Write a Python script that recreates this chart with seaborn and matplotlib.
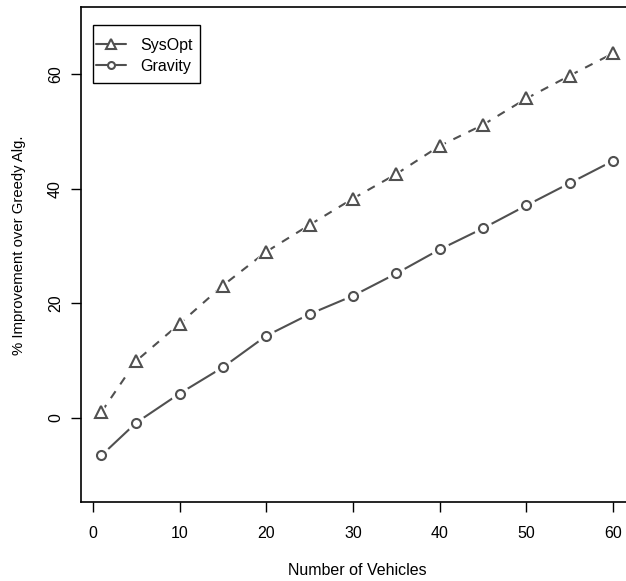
import matplotlib
matplotlib.use('Agg')
import matplotlib.pyplot as plt
from matplotlib.lines import Line2D
from matplotlib.patches import Rectangle
import pandas as pd
import seaborn as sns

vehicles = [1, 5, 10, 15, 20, 25, 30, 35, 40, 45, 50, 55, 60]
sysopt = [1.0, 9.9, 16.4, 23.1, 29.0, 33.7, 38.3, 42.6, 47.5, 51.2, 55.8, 59.8, 63.7]
gravity = [-6.6, -0.9, 4.2, 8.8, 14.3, 18.1, 21.3, 25.2, 29.4, 33.1, 37.1, 41.0, 44.9]

series_names = ['SysOpt', 'Gravity']
x_ticks = [0, 10, 20, 30, 40, 50, 60]
y_ticks = [0, 20, 40, 60]

df = pd.DataFrame({'vehicles': vehicles * 2,
                   'improvement': sysopt + gravity,
                   'series': ['SysOpt'] * len(vehicles) + ['Gravity'] * len(vehicles)})

sns.set_style('ticks')
plt.rcParams['font.family'] = ['Liberation Sans', 'DejaVu Sans']
plt.rcParams['font.size'] = 11.5
plt.rcParams['text.color'] = 'black'
plt.rcParams['axes.labelcolor'] = 'black'
plt.rcParams['xtick.color'] = 'black'
plt.rcParams['ytick.color'] = 'black'

gray = '#505050'
fig = plt.figure(figsize=(6.26, 5.81), dpi=100)
ax = fig.add_axes([0.1294, 0.1360, 0.8827, 0.8520])

styles = {'SysOpt': ((4, 4), '^', 8), 'Gravity': ('', 'o', 6.5)}
for name in series_names:
    sub = df[df['series'] == name]
    dash, mk, ms = styles[name]
    sns.lineplot(data=sub, x='vehicles', y='improvement', ax=ax,
                 color=gray, linewidth=1.5, zorder=2)
    ln = ax.lines[-1]
    if dash:
        ln.set_dashes(dash)
    # white halo so the line stops short of each point (like R type="b")
    ax.plot(sub['vehicles'], sub['improvement'], linestyle='none', marker=mk,
            markersize=ms + 6, markerfacecolor='white', markeredgecolor='white', zorder=3)
    ax.plot(sub['vehicles'], sub['improvement'], linestyle='none', marker=mk,
            markersize=ms, markerfacecolor='white', markeredgecolor=gray,
            markeredgewidth=1.5, zorder=4)

ax.set_xlim(-1.36, 62.36)
ax.set_ylim(-14.75, 71.8)
ax.set_xticks(x_ticks)
ax.set_yticks(y_ticks)
ax.set_yticklabels([str(t) for t in y_ticks], rotation=90, va='center')
ax.tick_params(axis='both', length=7, width=1, color='black', labelsize=11.5, labelcolor='black')
ax.tick_params(axis='x', pad=10)
ax.tick_params(axis='y', pad=6)
for sp in ax.spines.values():
    sp.set_visible(True)
    sp.set_color('black')
    sp.set_linewidth(1.2)

ax.set_xlabel('Number of Vehicles', fontsize=11.5)
ax.set_ylabel('% Improvement over Greedy Alg.', fontsize=10.7)
ax.xaxis.set_label_coords(0.5, -0.124)
ax.yaxis.set_label_coords(-0.100, 0.518)

# legend box (R style: tight sides, roomier top/bottom)
ax.add_patch(Rectangle((93 / 626, 1 - 83 / 581), 107 / 626, 58 / 581,
                       transform=fig.transFigure, facecolor='white',
                       edgecolor='black', linewidth=1.0, zorder=5))
handles = [Line2D([], [], color=gray, linewidth=1.5, marker='^', markersize=6.5,
                  markerfacecolor='white', markeredgecolor=gray, markeredgewidth=1.5),
           Line2D([], [], color=gray, linewidth=1.5, marker='o', markersize=5,
                  markerfacecolor='white', markeredgecolor=gray, markeredgewidth=1.5)]
leg = ax.legend(handles, series_names, loc='upper left',
                bbox_to_anchor=(96 / 626, 1 - 38 / 581), bbox_transform=fig.transFigure,
                borderaxespad=0, borderpad=0, frameon=False,
                handlelength=1.9, handletextpad=0.85, labelspacing=0.38, fontsize=11.5)
leg.set_zorder(6)

fig.savefig('out.png', dpi=100)
